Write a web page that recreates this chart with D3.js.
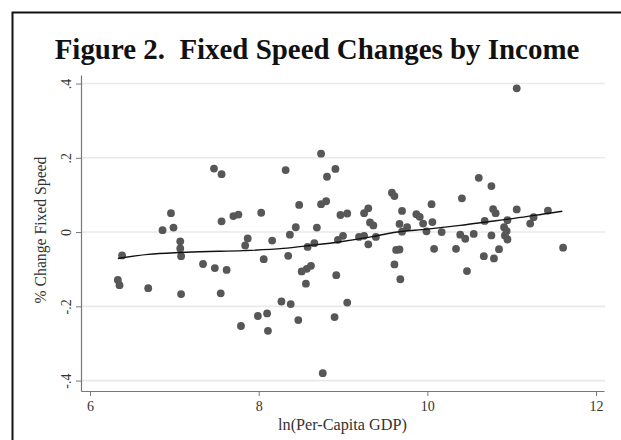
<!DOCTYPE html>
<html><head><meta charset="utf-8">
<script src="https://cdn.jsdelivr.net/npm/d3@7"></script>
<style>
html,body{margin:0;padding:0;background:#fff;}
svg{display:block;}
text{white-space:pre;}
</style></head>
<body>
<script>
// ---- data ----
const title = "Figure 2.  Fixed Speed Changes by Income";
const xTitle = "ln(Per-Capita GDP)";
const yTitle = "% Change Fixed Speed";
const xTicks = [6, 8, 10, 12];
const xTickLabels = ["6", "8", "10", "12"];
const yTicks = [-0.4, -0.2, 0, 0.2, 0.4];
const yTickLabels = ["-.4", "-.2", "0", ".2", ".4"];

// scatter: ln(per-capita GDP)
const gdp = [
 7.47,7.56,6.96,7.56,7.70,7.76,6.86,6.99,7.07,7.07,7.08,6.38,7.84,7.87,7.34,7.48,7.62,6.33,6.35,6.69,
 7.08,7.55,8.32,8.74,8.91,8.81,8.03,8.48,8.74,8.80,8.97,9.05,9.25,9.30,9.32,8.16,8.37,8.44,8.69,8.58,
 8.66,8.94,9.00,9.19,9.25,9.30,8.06,8.35,8.51,8.57,8.62,8.56,8.92,8.27,8.38,9.05,7.99,8.10,7.79,8.11,
 8.47,8.90,8.76,10.61,10.76,9.58,9.61,10.41,10.05,9.70,9.87,9.91,10.78,10.81,9.36,9.67,9.76,9.95,10.06,10.68,
 10.95,9.70,9.99,10.17,10.39,10.45,10.55,10.76,10.91,10.92,10.95,9.39,9.63,9.67,10.08,10.34,10.85,10.67,10.79,9.61,
 10.47,9.68,11.06,11.43,11.26,11.22,10.94,11.61,11.06
];
// scatter: % change in fixed speed
const change = [
 0.171,0.156,0.051,0.029,0.043,0.047,0.005,0.012,-0.025,-0.044,-0.065,-0.063,-0.036,-0.017,-0.086,-0.097,-0.102,-0.129,-0.143,-0.151,
 -0.167,-0.165,0.167,0.211,0.170,0.149,0.052,0.073,0.075,0.083,0.046,0.050,0.051,0.064,0.026,-0.023,-0.007,0.013,0.012,-0.040,
 -0.030,-0.021,-0.010,-0.013,-0.010,-0.033,-0.073,-0.064,-0.106,-0.099,-0.091,-0.139,-0.116,-0.187,-0.194,-0.190,-0.226,-0.219,-0.253,-0.266,
 -0.237,-0.229,-0.380,0.146,0.124,0.106,0.097,0.091,0.075,0.057,0.048,0.041,0.062,0.051,0.018,0.022,0.013,0.023,0.027,0.030,
 0.032,0.001,0.002,0.000,-0.007,-0.018,-0.005,-0.009,0.013,-0.009,-0.020,-0.013,-0.048,-0.047,-0.045,-0.045,-0.046,-0.065,-0.071,-0.087,
 -0.105,-0.127,0.061,0.058,0.040,0.023,0.003,-0.042,0.387
];
// lowess fit line
const fitX = [6.33,6.69,7.07,7.31,7.82,8.29,8.61,8.97,9.33,9.60,10.00,10.39,10.79,11.03,11.42,11.60];
const fitY = [-0.071,-0.060,-0.055,-0.053,-0.050,-0.044,-0.036,-0.026,-0.013,-0.001,0.008,0.018,0.030,0.037,0.050,0.056];

// ---- drawing ----
const W = 621, H = 440;
const svg = d3.select("body").append("svg").attr("width", W).attr("height", H);
svg.append("rect").attr("width", W).attr("height", H).attr("fill", "#fff");

// outer frame (only left & top edges visible; the box is cropped)
svg.append("path").attr("d", `M12.5,${H} L12.5,12.5 L${W},12.5`)
  .attr("fill", "none").attr("stroke", "#111").attr("stroke-width", 2);

const serif = "'Liberation Serif','Times New Roman',serif";

// title, sized to the reference width
const t = svg.append("text").attr("x", 317).attr("y", 59)
  .attr("text-anchor", "middle").attr("font-family", serif)
  .attr("font-weight", "bold").attr("font-size", 29).attr("fill", "#111").text(title);
t.attr("font-size", 29 * 525 / t.node().getComputedTextLength());

const x = d3.scaleLinear().domain([5.893, 12.095]).range([81, 604]);
const y = d3.scaleLinear().domain([-0.428, 0.423]).range([391, 75]);

// gridlines
svg.append("g").selectAll("line").data(yTicks).join("line")
  .attr("x1", 81).attr("x2", 605)
  .attr("y1", d => y(d)).attr("y2", d => y(d))
  .attr("stroke", "#e9e9e9").attr("stroke-width", 1.6);

// axes
const axY = svg.append("g").attr("transform", "translate(81,0)")
  .call(d3.axisLeft(y).tickValues(yTicks).tickSize(5).tickSizeOuter(0)
        .tickFormat((d, i) => yTickLabels[i]));
const axX = svg.append("g").attr("transform", "translate(0,391)")
  .call(d3.axisBottom(x).tickValues(xTicks).tickSize(5).tickSizeOuter(0)
        .tickFormat((d, i) => xTickLabels[i]));
[axX, axY].forEach(a => {
  a.select(".domain").attr("stroke", "#777").attr("stroke-width", 1.2);
  a.selectAll(".tick line").attr("stroke", "#777").attr("stroke-width", 1);
  a.selectAll(".tick text").attr("font-family", serif).attr("font-size", 14).attr("fill", "#333");
});
axX.selectAll(".tick text").attr("y", 10);
// vertical (rotated) y tick labels, Stata style
axY.selectAll(".tick text")
  .attr("text-anchor", "middle").attr("transform", "rotate(-90)")
  .attr("x", 0).attr("y", -10).attr("dy", "0");

// axis titles
const xt = svg.append("text").attr("x", 342.5).attr("y", 430)
  .attr("text-anchor", "middle").attr("font-family", serif)
  .attr("font-size", 16).attr("fill", "#333").text(xTitle);
xt.attr("font-size", 16 * 129 / xt.node().getComputedTextLength());
const yt = svg.append("text").attr("transform", "translate(46,230) rotate(-90)")
  .attr("text-anchor", "middle").attr("font-family", serif)
  .attr("font-size", 16).attr("fill", "#333").text(yTitle);
yt.attr("font-size", 16 * 147 / yt.node().getComputedTextLength());

// scatter points
svg.append("g").selectAll("circle").data(gdp.map((g, i) => [g, change[i]])).join("circle")
  .attr("cx", d => x(d[0])).attr("cy", d => y(d[1])).attr("r", 3.9)
  .attr("fill", "#575757");

// fit line
const line = d3.line().x(d => x(d[0])).y(d => y(d[1])).curve(d3.curveMonotoneX);
svg.append("path").datum(fitX.map((v, i) => [v, fitY[i]]))
  .attr("d", line).attr("fill", "none").attr("stroke", "#111").attr("stroke-width", 1.4);
</script>
</body></html>
